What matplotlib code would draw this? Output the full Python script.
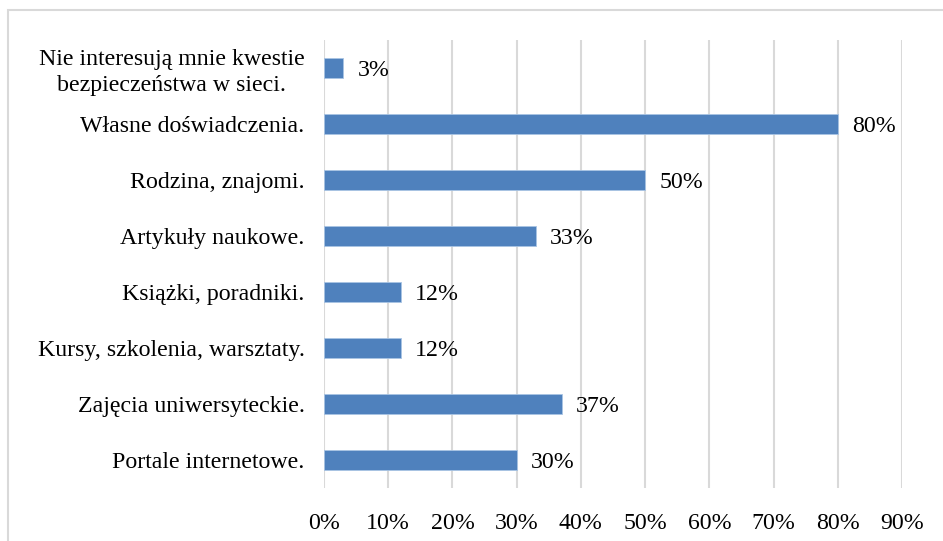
import matplotlib as mpl
mpl.use('Agg')
import matplotlib.pyplot as plt
from matplotlib.patches import Rectangle

categories = ["Nie interesują mnie kwestie\nbezpieczeństwa w sieci.",
              "Własne doświadczenia.",
              "Rodzina, znajomi.",
              "Artykuły naukowe.",
              "Książki, poradniki.",
              "Kursy, szkolenia, warsztaty.",
              "Zajęcia uniwersyteckie.",
              "Portale internetowe."]
values = [3, 80, 50, 33, 12, 12, 37, 30]
xticks = [0, 10, 20, 30, 40, 50, 60, 70, 80, 90]

mpl.rcParams.update({'font.family': 'Liberation Serif', 'font.size': 17.2})

fig = plt.figure(figsize=(9.43, 5.41), dpi=100)
ax = fig.add_axes([324/943, 1 - 488/541, (902 - 324)/943, 448/541])

# light frame around the chart area (cut at right and bottom like the source)
fig.patches.append(Rectangle((8/943, -0.1), 1.2, 1 - 10/541 + 0.1,
                             transform=fig.transFigure, fill=False,
                             edgecolor='#d9d9d9', linewidth=1.5))

pos = list(range(len(categories)))[::-1]
ax.barh(pos, values, height=0.36, color='#4f81bd', edgecolor='#a9c4e4',
        linewidth=0.6, zorder=3)
for y, v in zip(pos, values):
    ax.text(v + 2.2, y, f"{v}%", va='center_baseline', ha='left')

ax.set_xlim(0, 90)
ax.set_ylim(-0.5, len(categories) - 0.5)
ax.set_xticks(xticks)
ax.set_xticklabels([f"{t}%" for t in xticks])
ax.set_yticks(pos)
ax.set_yticklabels(categories, linespacing=1.3, multialignment='center')
ax.xaxis.grid(True, color='#d9d9d9', linewidth=1.5, zorder=0)
ax.tick_params(axis='both', length=0)
ax.tick_params(axis='x', pad=18)
ax.tick_params(axis='y', pad=14)
for s in ['top', 'right', 'bottom', 'left']:
    ax.spines[s].set_visible(False)

plt.savefig("out.png", dpi=100)
